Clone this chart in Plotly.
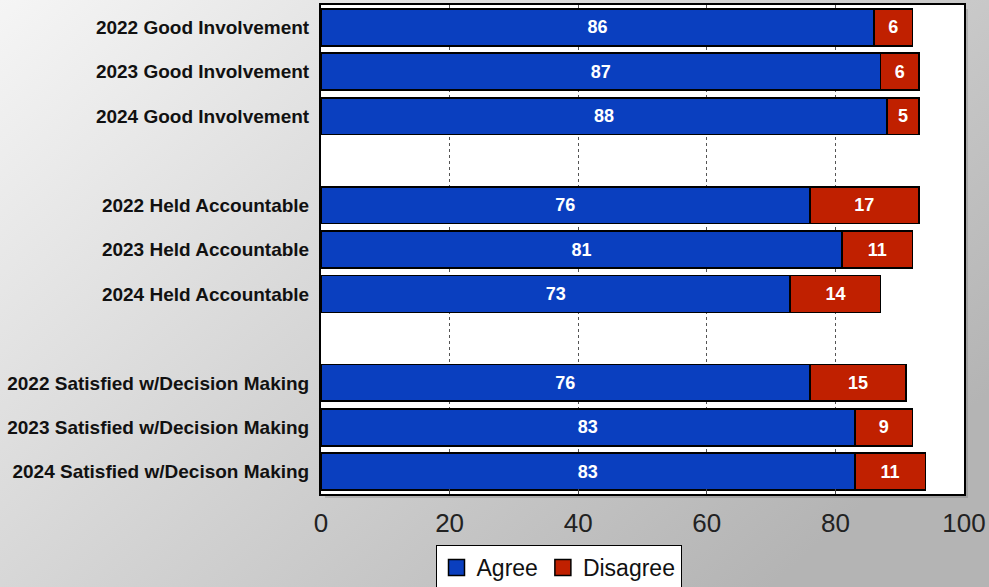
import base64
import plotly.graph_objects as go

# ---- data ----
categories = [
    "2022 Good Involvement",
    "2023 Good Involvement",
    "2024 Good Involvement",
    " ",
    "2022 Held Accountable",
    "2023 Held Accountable",
    "2024 Held Accountable",
    "  ",
    "2022 Satisfied w/Decision Making",
    "2023 Satisfied w/Decision Making",
    "2024 Satisfied w/Decison Making",
]
agree = [86, 87, 88, None, 76, 81, 73, None, 76, 83, 83]
disagree = [6, 6, 5, None, 17, 11, 14, None, 15, 9, 11]
x_ticks = [0, 20, 40, 60, 80, 100]

BLUE = "#0a3fbf"
RED = "#c02000"

W, H = 989, 587
ML, MR, MT, MB = 321, 25, 5, 93
PW, PH = W - ML - MR, H - MT - MB

fig = go.Figure()
for name, vals, col in [("Agree", agree, BLUE), ("Disagree", disagree, RED)]:
    fig.add_trace(go.Bar(
        y=categories, x=vals, orientation="h", name=name,
        marker=dict(color=col, line=dict(color="black", width=1.8)),
        text=[("" if v is None else str(v)) for v in vals],
        textposition="inside", insidetextanchor="middle",
        textfont=dict(color="white", size=18, family="Liberation Sans", weight="bold"),
        showlegend=False, hoverinfo="skip",
    ))
# legend entries with larger square swatches
for name, col in [("Agree", BLUE), ("Disagree", RED)]:
    fig.add_trace(go.Scatter(
        x=[None], y=[None], mode="markers", name=name,
        marker=dict(symbol="square", size=16, color=col, line=dict(color="black", width=1.5)),
    ))

svg = (
    f'<svg xmlns="http://www.w3.org/2000/svg" width="{W}" height="{H}" preserveAspectRatio="none">'
    '<defs><linearGradient id="g" x1="0" y1="0" x2="1" y2="0.67">'
    '<stop offset="0" stop-color="#f5f5f5"/><stop offset="1" stop-color="#b4b4b4"/>'
    '</linearGradient></defs>'
    f'<rect width="{W}" height="{H}" fill="url(#g)"/></svg>'
)
src = "data:image/svg+xml;base64," + base64.b64encode(svg.encode()).decode()

fig.update_layout(
    width=W, height=H,
    margin=dict(l=ML, r=MR, t=MT, b=MB, pad=0, autoexpand=False),
    paper_bgcolor="#d8d8d8", plot_bgcolor="rgba(0,0,0,0)",
    barmode="stack", bargap=0.17,
    images=[dict(source=src, xref="paper", yref="paper",
                 x=-ML / PW, y=1 + MT / PH, sizex=W / PW, sizey=H / PH,
                 xanchor="left", yanchor="top", sizing="stretch", layer="below")],
    shapes=[
        dict(type="rect", xref="paper", yref="paper",
             x0=4 / PW, x1=1 + 4 / PW, y0=-4 / PH, y1=1 - 4 / PH,
             fillcolor="rgba(0,0,0,0.12)", line=dict(width=0), layer="below"),
        dict(type="rect", xref="paper", yref="paper",
             x0=0, x1=1, y0=0, y1=1,
             fillcolor="white", line=dict(width=0), layer="below"),
    ],
    xaxis=dict(
        range=[0, 100], tickvals=x_ticks, showgrid=True,
        gridcolor="#555555", griddash="dot", gridwidth=1,
        showline=True, mirror=True, linecolor="black", linewidth=2,
        ticks="inside", ticklen=5, tickcolor="#444444",
        tickfont=dict(family="Liberation Sans", size=26, color="#222222"),
        ticklabelstandoff=5, zeroline=False, fixedrange=True, automargin=False,
    ),
    yaxis=dict(
        categoryorder="array", categoryarray=categories, autorange="reversed",
        showline=True, mirror=True, linecolor="black", linewidth=2,
        ticks="", showgrid=False,
        tickfont=dict(family="Liberation Sans", size=19, color="#111111", weight="bold"),
        ticklabelstandoff=6, fixedrange=True, automargin=False,
    ),
    legend=dict(
        orientation="h", x=(558.5 - ML) / PW, xanchor="center",
        y=(494 - 545) / PH, yanchor="top", traceorder="normal",
        bgcolor="white", bordercolor="black", borderwidth=1,
        font=dict(family="Liberation Sans", size=23, color="#111111"),
        itemwidth=30, tracegroupgap=0,
    ),
)

fig.write_html("out.html", config={"displayModeBar": False},
               post_script="document.body.style.margin='0';")
